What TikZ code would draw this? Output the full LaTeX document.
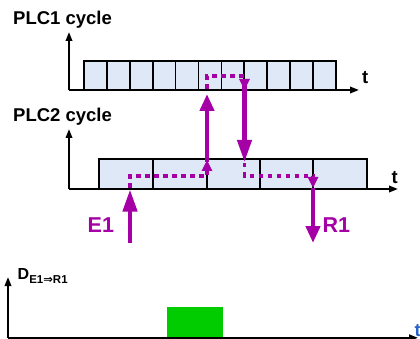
\documentclass[tikz,border=0pt]{standalone}
\usepackage{fontspec}
\setmainfont{Liberation Sans}
\newfontfamily\djv{DejaVu Sans}
\usetikzlibrary{arrows.meta}
\definecolor{mag}{RGB}{165,0,165}
\definecolor{cellfill}{RGB}{222,232,246}
\definecolor{grn}{RGB}{0,204,0}
\definecolor{tblue}{RGB}{40,100,200}
\begin{document}
\begin{tikzpicture}[x=1pt,y=-1pt,
  axis/.style={line width=1.9pt,-{Triangle[length=9pt,width=6.5pt]}},
  cell/.style={draw=black,line width=1.7pt,fill=cellfill},
  bigarrow/.style={mag,line width=4.2pt,-{Triangle[length=#1,width=14pt]}},
  bigarrow/.default=18pt,
  dotpath/.style={mag,line width=3.8pt,dash pattern=on 4.5pt off 4.5pt,-{Triangle[length=11pt,width=10pt]}},
  lbl/.style={inner sep=0pt,anchor=base west,font=\bfseries\fontsize{18.5}{20}\selectfont},
  mlbl/.style={inner sep=0pt,anchor=base west,text=mag,font=\bfseries\fontsize{21.5}{22}\selectfont}]
\clip (0,0) rectangle (420,339);
% ---------- PLC1 ----------
\node[lbl] (plc1) at (13,25) {PLC1 cycle};
\foreach \i in {0,...,10}{
  \draw[cell] ({84+\i*22.9},61) rectangle ({84+(\i+1)*22.9},90);
}
\coordinate (o1) at (69,90);
\coordinate (y1) at (69,32);
\coordinate (x1) at (359,90);
\draw[axis] (o1) -- (y1);
\draw[axis] (o1) -- (x1);
\node[lbl] (t1) at (362,84) {t};
% ---------- PLC2 ----------
\node[lbl] (plc2) at (13,121.5) {PLC2 cycle};
\foreach \a/\b in {99.3/153,153/206.7,206.7/260,260/313.3,313.3/367.3}{
  \draw[cell] (\a,159) rectangle (\b,189);
}
\coordinate (o2) at (69,189);
\coordinate (y2) at (69,129);
\coordinate (x2) at (398,189);
\draw[axis] (o2) -- (y2);
\draw[axis] (o2) -- (x2);
\node[lbl] (t2) at (391.5,183) {t};
% ---------- signal path ----------
\coordinate (e1s) at (130,243);
\coordinate (e1e) at (130,189.5);
\coordinate (d1a) at (130,188);
\coordinate (d1b) at (130,176);
\coordinate (d1c) at (207,176);
\coordinate (d1d) at (207,160);
\coordinate (u1s) at (207,162);
\coordinate (u1e) at (207,94);
\coordinate (d2a) at (207,89);
\coordinate (d2b) at (207,76);
\coordinate (d2c) at (244.5,76);
\coordinate (d2d) at (244.5,90);
\coordinate (w1s) at (244.5,82);
\coordinate (w1e) at (244.5,162);
\coordinate (d3a) at (244.5,163);
\coordinate (d3b) at (244.5,176);
\coordinate (d3c) at (313,176);
\coordinate (d3d) at (313,188);
\coordinate (r1s) at (313,188);
\coordinate (r1e) at (313,243);
\draw[dotpath] (d1a) -- (d1b) -- (d1c) -- (d1d);
\draw[dotpath] (d2a) -- (d2b) -- (d2c) -- (d2d);
\draw[dotpath] (d3a) -- (d3b) -- (d3c) -- (d3d);
\draw[bigarrow=22pt] (e1s) -- (e1e);
\draw[bigarrow=17pt] (u1s) -- (u1e);
\draw[bigarrow=22pt] (w1s) -- (w1e);
\draw[bigarrow=17pt] (r1s) -- (r1e);
\node[mlbl] (e1) at (87.5,233) {E1};
\node[mlbl] (r1) at (322.5,233) {R1};
% ---------- D ----------
\coordinate (o3) at (8,337.8);
\coordinate (y3) at (8,277);
\coordinate (x3) at (418,337.8);
\fill[grn] (167,307) rectangle (223,338);
\draw[axis] (o3) -- (y3);
\draw[axis] (o3) -- (x3);
\node[inner sep=0pt,anchor=base west,font=\bfseries\fontsize{16}{16}\selectfont] (dl) at (17.5,279.3)
  {D\raisebox{-4.3pt}{\fontsize{11.5}{12}\selectfont E1{\djv\bfseries ⇒}R1}};
\node[inner sep=0pt,anchor=base west,text=tblue,font=\bfseries\fontsize{18.5}{20}\selectfont] (t3) at (414.5,336) {t};
\end{tikzpicture}
\end{document}
